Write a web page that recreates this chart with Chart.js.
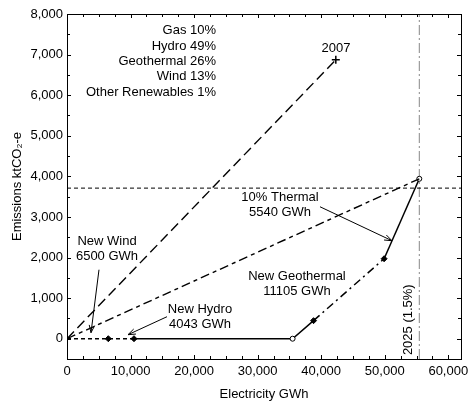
<!DOCTYPE html>
<html lang="en">
<head>
  <meta charset="UTF-8">
  <title>Emissions vs Electricity</title>
  <script src="https://cdn.jsdelivr.net/npm/chart.js"></script>
  <style>
    html, body { margin: 0; padding: 0; background: #fff; }
    #wrap { width: 468px; height: 404px; }
  </style>
</head>
<body>
  <div id="wrap"><canvas id="chart" width="468" height="404"></canvas></div>

  <script>
    // Path 1990s-2007 (origin to 2007 point)
    const path2007X = [0, 42300];
    const path2007Y = [0, 6870];

    // Straight origin -> 2025 comparison line
    const path2025X = [0, 55440];
    const path2025Y = [0, 3940];

    // Build-up to 2025: wind, hydro, existing, other, geothermal, thermal
    const buildX = [0, 6500, 10543, 35500, 38795, 49900, 55440];
    const buildY = [0, 0, 0, 0, 445, 1970, 3940];

    // Reference lines
    const targetEmissions = 3710;
    const year2025Electricity = 55440;

    // Generation mix text
    const mixLabels = ['Gas 10%', 'Hydro 49%', 'Geothermal 26%', 'Wind 13%', 'Other Renewables 1%'];

    // Axis ticks
    const xTicks = [0, 10000, 20000, 30000, 40000, 50000, 60000];
    const yTicks = [0, 1000, 2000, 3000, 4000, 5000, 6000, 7000, 8000];
    const xRange = [0, 62000];
    const yRange = [-500, 8000];

    const fmt = v => v.toLocaleString('en-US');

    Chart.defaults.font.family = 'Arial, "Liberation Sans", sans-serif';
    Chart.defaults.font.size = 13;
    Chart.defaults.color = '#000';

    // annotation placement (data units)
    const notes = {
      mix: { x: 23450, y: [7586, 7192, 6823, 6453, 6059] },
      label2007: { x: 42330, y: 7143 },
      thermal: { x: 33520, y: [3473, 3103], text: ['10% Thermal', '5540 GWh'], from: [39810, 3251], to: [51140, 2414] },
      geo: { x: 36190, y: [1527, 1158], text: ['New Geothermal', '11105 GWh'] },
      wind: { x: 6294, y: [2389, 2020], text: ['New Wind', '6500 GWh'], from: [5035, 1700], to: [3777, 148] },
      hydro: { x: 20930, y: [714, 345], text: ['New Hydro', '4043 GWh'], from: [15736, 542], to: [9599, 99] },
      year: { x: 53660, y: 468, text: '2025 (1.5%)' }
    };

    function arrow(ctx, x1, y1, x2, y2) {
      const a = Math.atan2(y2 - y1, x2 - x1);
      const L = 8, w = 0.35;
      ctx.beginPath();
      ctx.moveTo(x1, y1);
      ctx.lineTo(x2, y2);
      ctx.moveTo(x2 - L * Math.cos(a - w), y2 - L * Math.sin(a - w));
      ctx.lineTo(x2, y2);
      ctx.lineTo(x2 - L * Math.cos(a + w), y2 - L * Math.sin(a + w));
      ctx.stroke();
    }

    const framePlugin = {
      id: 'frame',
      afterDatasetsDraw(chart) {
        const { ctx, chartArea: ca, scales: { x, y } } = chart;
        ctx.save();
        ctx.strokeStyle = '#000';
        ctx.lineWidth = 1;
        ctx.strokeRect(ca.left + 0.5, ca.top + 0.5, ca.right - ca.left, ca.bottom - ca.top);

        // inward tick marks on all four sides
        ctx.beginPath();
        for (let v = xRange[0]; v <= xRange[1]; v += 2500) {
          const px = Math.round(x.getPixelForValue(v)) + 0.5;
          const len = v % 10000 === 0 ? 4 : 3;
          ctx.moveTo(px, ca.bottom); ctx.lineTo(px, ca.bottom - len);
          ctx.moveTo(px, ca.top); ctx.lineTo(px, ca.top + len);
        }
        for (let v = yRange[0]; v <= yRange[1]; v += 500) {
          const py = Math.round(y.getPixelForValue(v)) + 0.5;
          const len = v % 1000 === 0 ? 4 : 3;
          ctx.moveTo(ca.left, py); ctx.lineTo(ca.left + len, py);
          ctx.moveTo(ca.right, py); ctx.lineTo(ca.right - len, py);
        }
        ctx.stroke();

        // text notes
        ctx.fillStyle = '#000';
        ctx.font = '13px Arial, "Liberation Sans", sans-serif';
        ctx.textBaseline = 'middle';
        ctx.textAlign = 'right';
        mixLabels.forEach((t, i) => {
          ctx.fillText(t, x.getPixelForValue(notes.mix.x), y.getPixelForValue(notes.mix.y[i]));
        });
        ctx.textAlign = 'center';
        ctx.fillText('2007', x.getPixelForValue(notes.label2007.x), y.getPixelForValue(notes.label2007.y));
        [notes.thermal, notes.geo, notes.wind, notes.hydro].forEach(n => {
          n.text.forEach((t, i) => ctx.fillText(t, x.getPixelForValue(n.x), y.getPixelForValue(n.y[i])));
          if (n.from) {
            arrow(ctx, x.getPixelForValue(n.from[0]), y.getPixelForValue(n.from[1]),
                  x.getPixelForValue(n.to[0]), y.getPixelForValue(n.to[1]));
          }
        });
        ctx.save();
        ctx.translate(x.getPixelForValue(notes.year.x), y.getPixelForValue(notes.year.y));
        ctx.rotate(-Math.PI / 2);
        ctx.fillText(notes.year.text, 0, 0);
        ctx.restore();
        ctx.restore();
      }
    };

    const pts = (xs, ys) => xs.map((v, i) => ({ x: v, y: ys[i] }));
    const buildDash = [[4, 3], [4, 3], [], [], [8, 4, 2, 4], []];
    const buildStyle = ['circle', 'rectRot', 'rectRot', 'circle', 'rectRot', 'rectRot', 'circle'];
    const buildRadius = [0, 3, 3, 2.5, 3, 3, 2.5];
    const buildFill = ['#000', '#000', '#000', '#fff', '#000', '#000', '#fff'];

    new Chart(document.getElementById('chart'), {
      type: 'scatter',
      data: {
        datasets: [
          {
            label: '2007',
            data: pts(path2007X, path2007Y),
            showLine: true,
            borderColor: '#000',
            borderWidth: 1.4,
            borderDash: [10, 5],
            pointStyle: 'cross',
            pointRadius: [0, 4],
            pointBorderWidth: 1.5,
            pointBorderColor: '#000'
          },
          {
            label: 'origin to 2025',
            data: pts(path2025X, path2025Y),
            showLine: true,
            borderColor: '#000',
            borderWidth: 1.4,
            borderDash: [9, 4, 4, 4],
            pointRadius: 0
          },
          {
            label: 'build',
            data: pts(buildX, buildY),
            showLine: true,
            borderColor: '#000',
            borderWidth: 1.5,
            segment: {
              borderDash: c => buildDash[c.p0DataIndex]
            },
            pointStyle: buildStyle,
            pointRadius: buildRadius,
            pointBackgroundColor: buildFill,
            pointBorderColor: '#000',
            pointBorderWidth: 1
          },
          {
            label: 'target',
            data: pts(xRange, [targetEmissions, targetEmissions]),
            showLine: true,
            borderColor: '#000',
            borderWidth: 1,
            borderDash: [4, 3],
            pointRadius: 0
          },
          {
            label: '2025',
            data: pts([year2025Electricity, year2025Electricity], yRange),
            showLine: true,
            borderColor: '#888',
            borderWidth: 1,
            borderDash: [10, 3, 2, 3],
            pointRadius: 0
          }
        ]
      },
      options: {
        responsive: false,
        animation: false,
        layout: { padding: { left: 0, right: 7, top: 14, bottom: 0 } },
        plugins: { legend: { display: false }, tooltip: { enabled: false } },
        scales: {
          x: {
            type: 'linear',
            min: xRange[0],
            max: xRange[1],
            grid: { display: false, drawTicks: false },
            border: { display: false },
            afterBuildTicks: s => { s.ticks = xTicks.map(v => ({ value: v })); },
            afterFit: s => { s.height = 45; s.paddingLeft = 0; s.paddingRight = 0; },
            ticks: { padding: 5, maxRotation: 0, autoSkip: false, callback: v => fmt(v) },
            title: { display: true, text: 'Electricity GWh', padding: { top: 0, bottom: 2 } }
          },
          y: {
            type: 'linear',
            min: yRange[0],
            max: yRange[1],
            grid: { display: false, drawTicks: false },
            border: { display: false },
            afterBuildTicks: s => { s.ticks = yTicks.map(v => ({ value: v })); },
            afterFit: s => { s.width = 67; s.paddingTop = 0; s.paddingBottom = 0; },
            ticks: { padding: 4, autoSkip: false, callback: v => fmt(v) },
            title: { display: true, text: 'Emissions ktCO\u2082-e', padding: { top: 10, bottom: 0 } }
          }
        }
      },
      plugins: [framePlugin]
    });
  </script>
</body>
</html>
